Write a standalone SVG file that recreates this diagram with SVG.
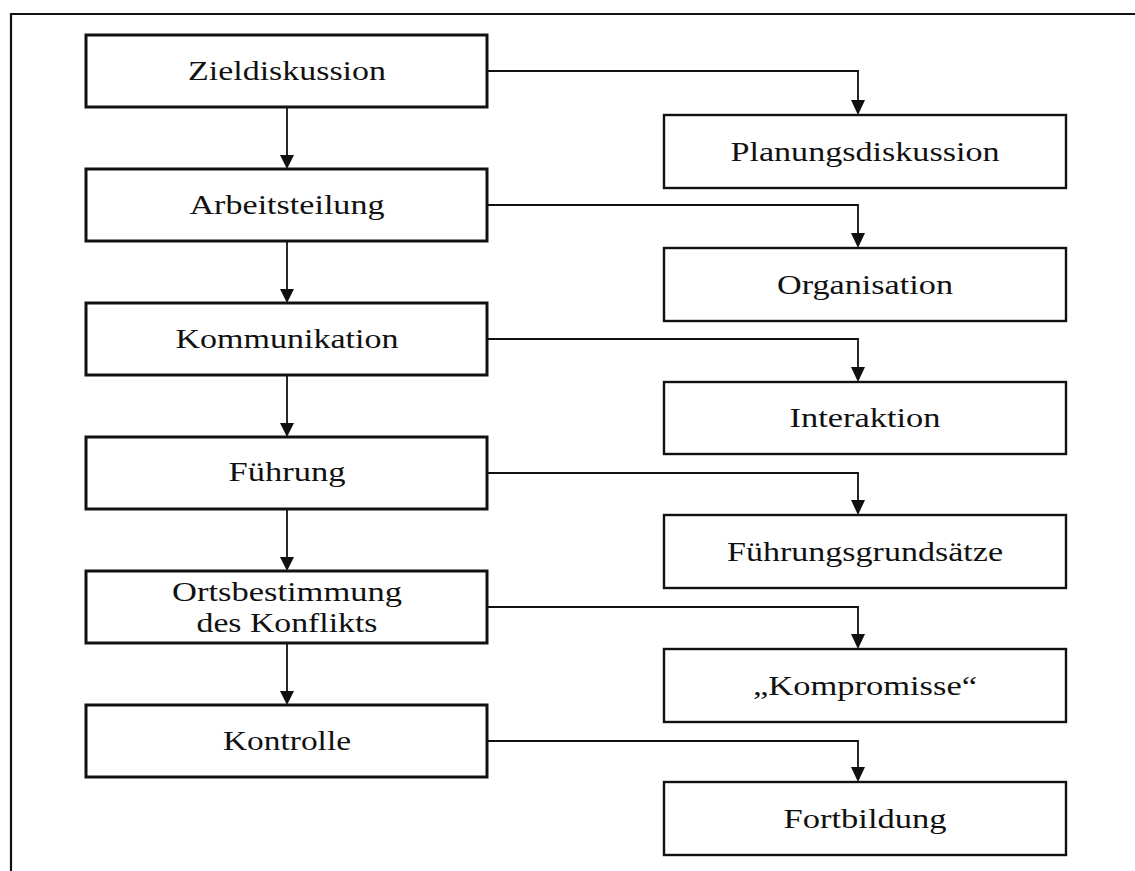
<svg xmlns="http://www.w3.org/2000/svg" width="1135" height="871" viewBox="0 0 1135 871">
<defs>
<marker id="ah" markerUnits="userSpaceOnUse" markerWidth="16" markerHeight="16" viewBox="0 0 16 16" refX="8" refY="15" orient="auto-start-reverse">
</marker>
<style>
.bg{fill:#ffffff}
.frame{fill:none;stroke:#111;stroke-width:2.2}
.lbox{fill:#fff;stroke:#111;stroke-width:3}
.rbox{fill:#fff;stroke:#111;stroke-width:2.4}
.conn{fill:none;stroke:#111;stroke-width:1.8}
.head{fill:#111}
text{font-family:"Liberation Serif","Times New Roman",serif;font-size:28px;fill:#111;text-anchor:middle}
</style>
</defs>
<rect class="bg" x="0" y="0" width="1135" height="871"/>
<path class="frame" d="M11,871 V14 H1135"/>

<g id="connectors">
  <path class="conn" d="M287,107 V156"/>
  <polygon class="head" points="280,155 294,155 287,169"/>
  <path class="conn" d="M287,241 V290"/>
  <polygon class="head" points="280,289 294,289 287,303"/>
  <path class="conn" d="M287,375 V424"/>
  <polygon class="head" points="280,423 294,423 287,437"/>
  <path class="conn" d="M287,509 V558"/>
  <polygon class="head" points="280,557 294,557 287,571"/>
  <path class="conn" d="M287,643 V692"/>
  <polygon class="head" points="280,691 294,691 287,705"/>

  <path class="conn" d="M487,71 H858 V101"/>
  <polygon class="head" points="851,100 865,100 858,115"/>
  <path class="conn" d="M487,205 H858 V234"/>
  <polygon class="head" points="851,233 865,233 858,248"/>
  <path class="conn" d="M487,339 H858 V368"/>
  <polygon class="head" points="851,367 865,367 858,382"/>
  <path class="conn" d="M487,473 H858 V501"/>
  <polygon class="head" points="851,500 865,500 858,515"/>
  <path class="conn" d="M487,607 H858 V635"/>
  <polygon class="head" points="851,634 865,634 858,649"/>
  <path class="conn" d="M487,741 H858 V768"/>
  <polygon class="head" points="851,767 865,767 858,782"/>
</g>

<g id="zieldiskussion">
  <rect class="lbox" x="86" y="35" width="401" height="72"/>
  <text x="287" y="80" textLength="198" lengthAdjust="spacingAndGlyphs">Zieldiskussion</text>
</g>
<g id="arbeitsteilung">
  <rect class="lbox" x="86" y="169" width="401" height="72"/>
  <text x="287" y="214" textLength="195" lengthAdjust="spacingAndGlyphs">Arbeitsteilung</text>
</g>
<g id="kommunikation">
  <rect class="lbox" x="86" y="303" width="401" height="72"/>
  <text x="287" y="348" textLength="223" lengthAdjust="spacingAndGlyphs">Kommunikation</text>
</g>
<g id="fuehrung">
  <rect class="lbox" x="86" y="437" width="401" height="72"/>
  <text x="287" y="481" textLength="117" lengthAdjust="spacingAndGlyphs">Führung</text>
</g>
<g id="ortsbestimmung">
  <rect class="lbox" x="86" y="571" width="401" height="72"/>
  <text x="287" y="601" textLength="230" lengthAdjust="spacingAndGlyphs">Ortsbestimmung</text>
  <text x="287" y="632" textLength="181" lengthAdjust="spacingAndGlyphs">des Konflikts</text>
</g>
<g id="kontrolle">
  <rect class="lbox" x="86" y="705" width="401" height="72"/>
  <text x="287" y="750" textLength="128" lengthAdjust="spacingAndGlyphs">Kontrolle</text>
</g>

<g id="planungsdiskussion">
  <rect class="rbox" x="664" y="115" width="402" height="73"/>
  <text x="865" y="161" textLength="269" lengthAdjust="spacingAndGlyphs">Planungsdiskussion</text>
</g>
<g id="organisation">
  <rect class="rbox" x="664" y="248" width="402" height="73"/>
  <text x="865" y="294" textLength="176" lengthAdjust="spacingAndGlyphs">Organisation</text>
</g>
<g id="interaktion">
  <rect class="rbox" x="664" y="382" width="402" height="72"/>
  <text x="865" y="427" textLength="151" lengthAdjust="spacingAndGlyphs">Interaktion</text>
</g>
<g id="fuehrungsgrundsaetze">
  <rect class="rbox" x="664" y="515" width="402" height="73"/>
  <text x="865" y="561" textLength="276" lengthAdjust="spacingAndGlyphs">Führungsgrundsätze</text>
</g>
<g id="kompromisse">
  <rect class="rbox" x="664" y="649" width="402" height="73"/>
  <text x="865" y="695" textLength="224" lengthAdjust="spacingAndGlyphs">„Kompromisse“</text>
</g>
<g id="fortbildung">
  <rect class="rbox" x="664" y="782" width="402" height="73"/>
  <text x="865" y="828" textLength="163" lengthAdjust="spacingAndGlyphs">Fortbildung</text>
</g>
</svg>
